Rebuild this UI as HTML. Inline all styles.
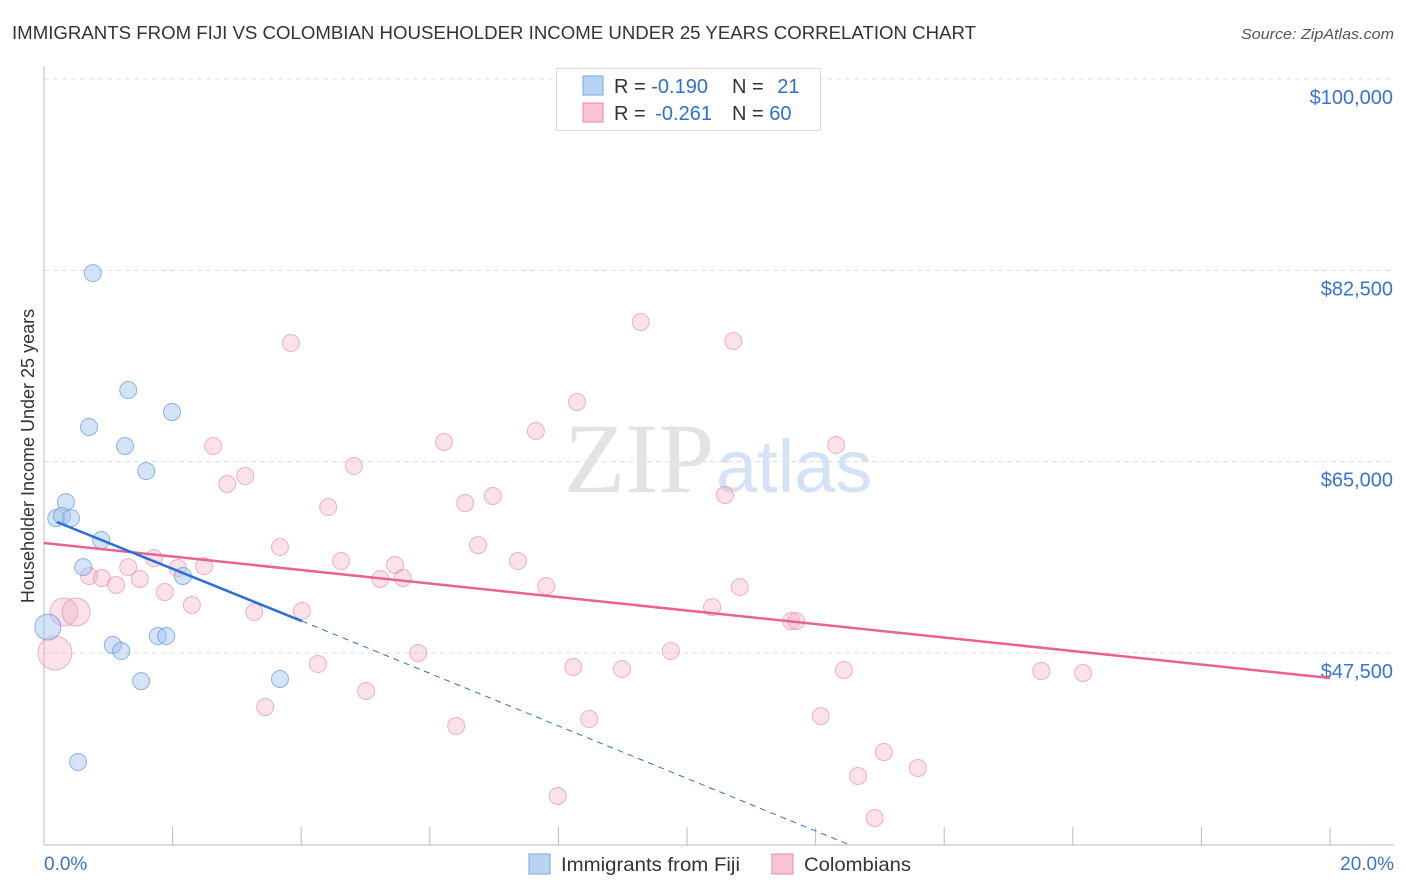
<!DOCTYPE html>
<html><head><meta charset="utf-8">
<style>
body{margin:0;background:#fff;font-family:"Liberation Sans",sans-serif;}
svg{display:block}
</style></head>
<body>
<svg id="chart" width="1406" height="892" xmlns="http://www.w3.org/2000/svg">
<text x="12" y="39" font-size="18" fill="#333" textLength="964" lengthAdjust="spacingAndGlyphs">IMMIGRANTS FROM FIJI VS COLOMBIAN HOUSEHOLDER INCOME UNDER 25 YEARS CORRELATION CHART</text>
<text x="1241" y="39" font-size="15" fill="#555" font-style="italic" textLength="153" lengthAdjust="spacingAndGlyphs">Source: ZipAtlas.com</text>
<text transform="translate(34,456) rotate(-90)" font-size="18" fill="#333" text-anchor="middle">Householder Income Under 25 years</text>
<g id="grid"></g>
<text x="714" y="492" font-size="100" font-family="Liberation Serif,serif" fill="#e3e3e3" text-anchor="end">ZIP</text>
<text x="716" y="492" font-size="74" fill="#d3e2f5">atlas</text>
<g id="marks"></g>
<g>
<rect x="556.5" y="68.5" width="264" height="62" fill="#fff" stroke="#ddd"/>
<rect x="583" y="76" width="20" height="19" fill="#b8d3f4" stroke="#7aa7e0"/>
<rect x="583" y="103" width="20" height="19" fill="#f9c3d3" stroke="#e88aa8"/>
<text x="614" y="93" font-size="20" fill="#333">R = <tspan fill="#2f6fd0">-0.190</tspan></text>
<text x="732" y="93" font-size="20" fill="#333">N = <tspan fill="#2f6fd0" dx="8">21</tspan></text>
<text x="614" y="120" font-size="20" fill="#333">R = <tspan fill="#2f6fd0" dx="4">-0.261</tspan></text>
<text x="732" y="120" font-size="20" fill="#333">N = <tspan fill="#2f6fd0">60</tspan></text>
</g>
<g>
<rect x="529" y="854" width="21" height="20" fill="#b8d3f4" stroke="#7aa7e0"/>
<text x="561" y="871" font-size="19.5" fill="#333" textLength="179" lengthAdjust="spacingAndGlyphs">Immigrants from Fiji</text>
<rect x="772" y="854" width="21" height="20" fill="#f9c3d3" stroke="#e88aa8"/>
<text x="804" y="871" font-size="19.5" fill="#333" textLength="107" lengthAdjust="spacingAndGlyphs">Colombians</text>
</g>
</svg>
<script>
const yTicks=[100000,82500,65000,47500];
const yTickLabels=["$100,000","$82,500","$65,000","$47,500"];
const xTickLabels=["0.0%","20.0%"];
const fijiX=[.76,1.31,1.99,.70,1.26,1.59,.34,.19,.28,.42,.89,.61,2.16,.06,1.07,1.20,1.77,1.90,1.51,3.67,.53];
const fijiY=[82.25,71.55,69.54,68.17,66.43,64.14,61.3,59.84,60.03,59.84,57.83,55.36,54.54,49.87,48.23,47.68,49.05,49.05,44.93,45.12,37.53];
const fijiBig=[13];
const colX=[3.84,9.28,10.72,8.29,2.63,6.22,7.65,12.32,3.13,2.85,4.82,6.98,6.55,4.42,10.59,3.67,6.75,1.71,4.62,7.37,5.46,2.49,2.08,1.31,.70,.90,1.49,1.12,5.23,5.58,7.81,10.82,1.88,2.30,3.27,4.01,10.39,.31,11.62,11.70,5.82,9.75,4.26,8.23,8.99,12.44,15.51,16.16,5.01,3.44,8.48,12.08,6.41,13.06,13.59,12.66,7.99,12.92,.17,.50];
const colY=[75.85,77.77,76.03,70.46,66.43,66.80,67.80,66.52,63.69,62.96,64.60,61.86,61.22,60.85,61.95,57.19,57.37,56.18,55.91,55.91,55.55,55.45,55.27,55.36,54.54,54.36,54.27,53.72,54.27,54.36,53.62,53.53,53.08,51.89,51.25,51.34,51.70,51.25,50.42,50.42,47.50,47.68,46.49,46.22,46.03,45.94,45.85,45.67,44.02,42.56,41.46,41.73,40.82,38.44,36.98,36.25,34.42,32.41,47.50,51.25];
const colBig=[37,58,59];
const fijiTrend=[0.2,59.48,4.01,50.42,12.53,29.95];
const colTrend=[0,57.56,20,45.21];

const NS="http://www.w3.org/2000/svg";
const X0=44,X1=1330,Yb=845;
function sx(p){return X0+(p/20)*(X1-X0);}
function sy(k){return 79+(100-k)*(653-79)/52.5;}
function mk(tag,attrs,parent){const e=document.createElementNS(NS,tag);for(const k in attrs)e.setAttribute(k,attrs[k]);parent.appendChild(e);return e;}
const grid=document.getElementById('grid'),marks=document.getElementById('marks');
yTicks.forEach((v,i)=>{
  const y=sy(v/1000);
  const l=mk('line',{x1:X0,x2:1394,y1:y,y2:y,stroke:'#ddd','stroke-dasharray':'5,4'},grid);
  
  
  const t=mk('text',{x:1393,y:y+25,'font-size':20,fill:'#3b73d4','text-anchor':'end'},grid);
  t.textContent=yTickLabels[i];
  
  
});
const ax=mk('line',{x1:X0,x2:X0,y1:66,y2:Yb,stroke:'#bbb'},grid);


const bx=mk('line',{x1:X0,x2:1394,y1:Yb,y2:Yb,stroke:'#bbb'},grid);


for(let i=0;i<=10;i++){
  const x=sx(i*2);
  const tk=mk('line',{x1:x,x2:x,y1:Yb-18,y2:Yb,stroke:'#bbb'},grid);
  
  
}
const xl0=mk('text',{x:44,y:870,'font-size':19,fill:'#3b73d4'},grid);xl0.textContent=xTickLabels[0];


const xl1=mk('text',{x:1394,y:870,'font-size':19,fill:'#3b73d4','text-anchor':'end'},grid);xl1.textContent=xTickLabels[1];



colX.forEach((x,i)=>{
  const c=mk('circle',{cx:sx(x),cy:sy(colY[i]),r:colBig.includes(i)?(i===58?17:14):8.5,fill:'rgba(244,170,195,0.35)',stroke:'rgba(232,130,165,0.6)','stroke-width':1},marks);
  
  
});
fijiX.forEach((x,i)=>{
  const c=mk('circle',{cx:sx(x),cy:sy(fijiY[i]),r:fijiBig.includes(i)?13:8.5,fill:'rgba(160,195,240,0.45)',stroke:'rgba(100,150,220,0.7)','stroke-width':1},marks);
  
  
});
const cl=mk('line',{x1:sx(colTrend[0]),y1:sy(colTrend[1]),x2:sx(colTrend[2]),y2:sy(colTrend[3]),stroke:'#e8648f','stroke-width':2.5},marks);


const fl=mk('line',{x1:sx(fijiTrend[0]),y1:sy(fijiTrend[1]),x2:sx(fijiTrend[2]),y2:sy(fijiTrend[3]),stroke:'#2c6fd6','stroke-width':2.5},marks);


const fd=mk('line',{x1:sx(fijiTrend[2]),y1:sy(fijiTrend[3]),x2:sx(fijiTrend[4]),y2:sy(fijiTrend[5]),stroke:'#2c6fd6','stroke-width':1,'stroke-dasharray':'6,5'},marks);


</script>
</body></html>
